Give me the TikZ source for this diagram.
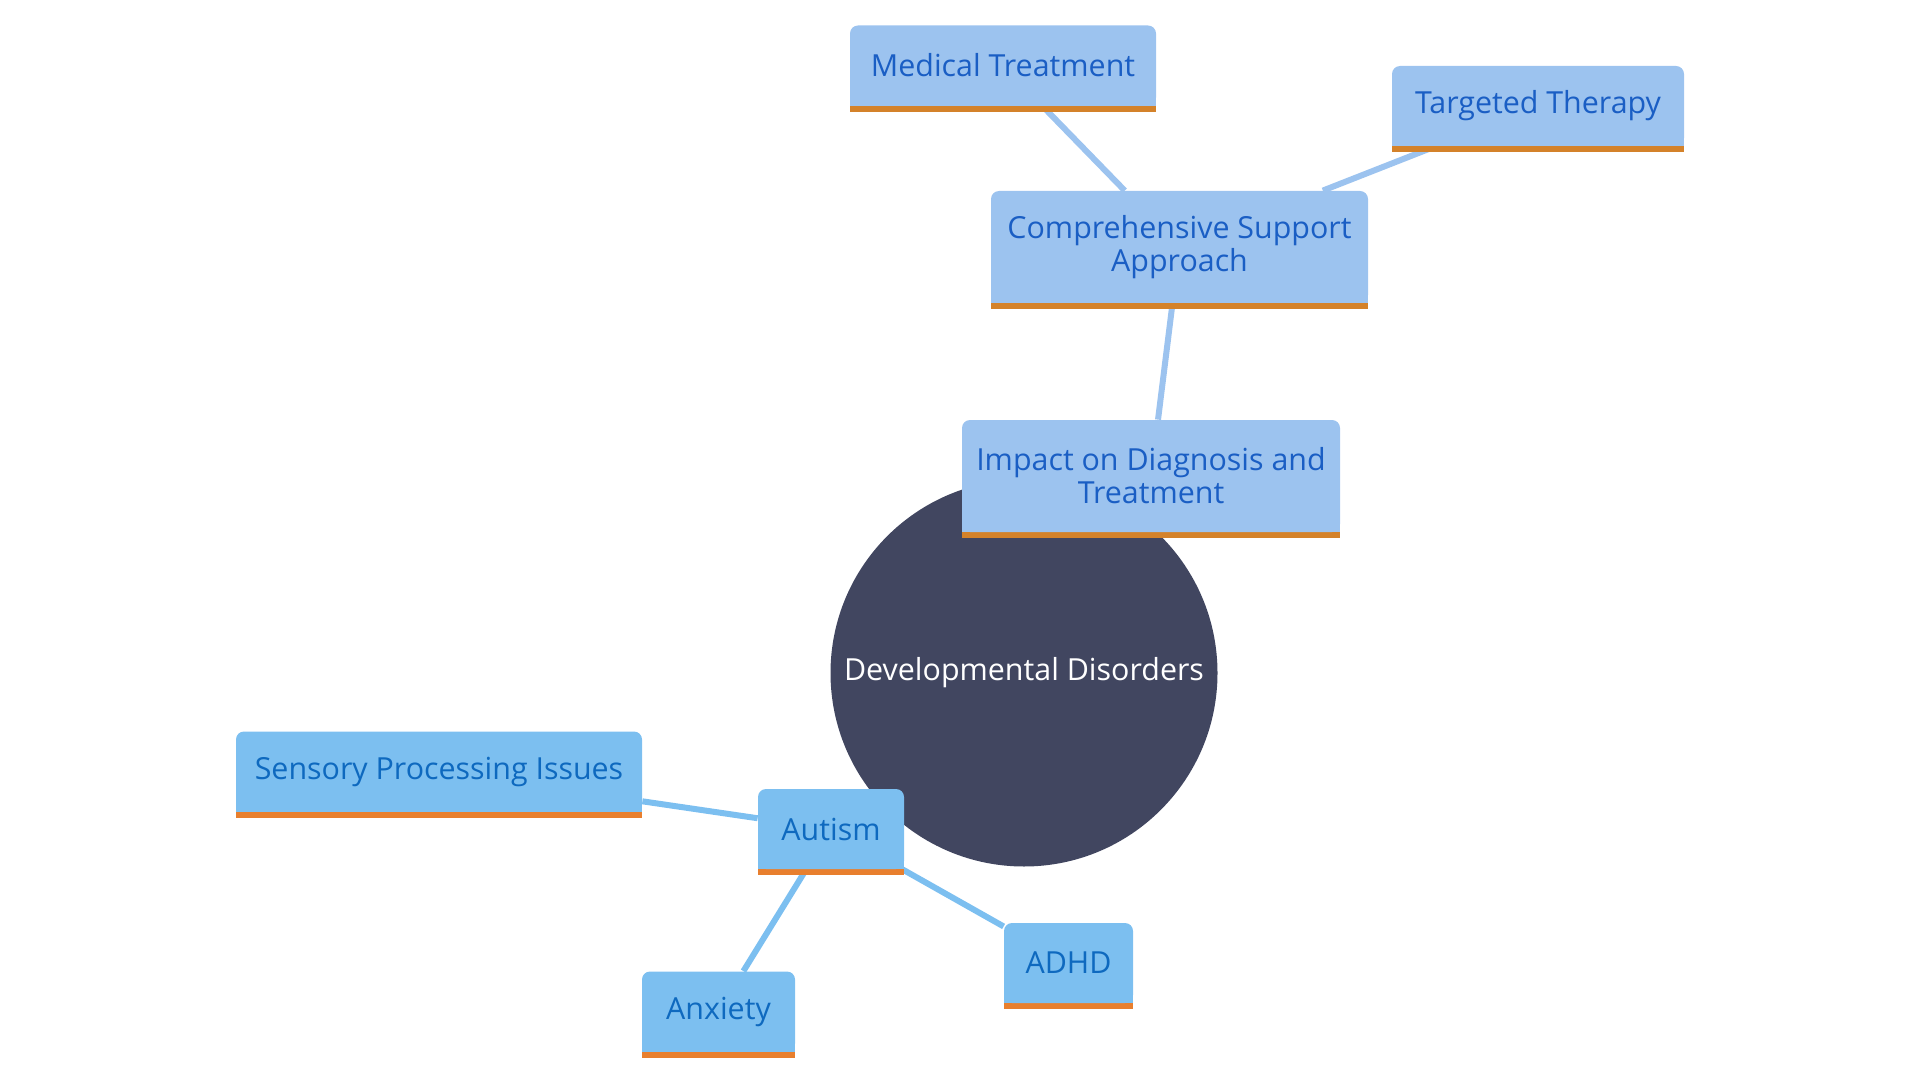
\documentclass[tikz,border=0pt]{standalone}
\usepackage{fontspec}
\setmainfont{Open Sans}
\usetikzlibrary{backgrounds}
\definecolor{hubfill}{HTML}{414660}
\definecolor{upfill}{HTML}{9CC3EF}
\definecolor{uptext}{HTML}{1A5EC4}
\definecolor{upbar}{HTML}{D4822A}
\definecolor{lowfill}{HTML}{7CBFF0}
\definecolor{lowtext}{HTML}{0E69BF}
\definecolor{lowbar}{HTML}{E87F2E}
\begin{document}
\begin{tikzpicture}[x=0.5pt, y=-0.5pt,
font=\fontsize{15.2}{16.5}\selectfont,
hub/.style={circle, fill=hubfill, text=white, minimum size=193.5pt, inner sep=0pt},
topic/.style={rectangle, rounded corners=4pt, fill=#1fill, text=#1text, inner sep=0pt,
  minimum height=40pt, align=center,
  append after command={\pgfextra{
    \fill[#1fill, sharp corners] ([yshift=5pt]\tikzlastnode.south west) rectangle (\tikzlastnode.south east);
    \fill[#1bar, sharp corners] (\tikzlastnode.south west) rectangle ([yshift=-3pt]\tikzlastnode.south east);}}},
link/.style={draw=#1fill, line width=3pt}]
\useasboundingbox (0,0) rectangle (1920,1080);

\node[hub] (hub) at (1024,673) {Developmental Disorders};

% upper branch
\node[topic=up, minimum width=189pt, minimum height=56pt] (impact) at (1151,476) {Impact on Diagnosis and\\Treatment};
\node[topic=up, minimum width=188.5pt, minimum height=56pt] (support) at (1179.5,247) {Comprehensive Support\\Approach};
\node[topic=up, minimum width=153pt] (medical) at (1003,65.5) {Medical Treatment};
\node[topic=up, minimum width=146pt] (therapy) at (1538,106) {Targeted Therapy};

% lower branch
\node[topic=low, minimum width=73pt] (autism) at (831,829) {Autism};
\node[topic=low, minimum width=203pt] (sensory) at (439,771.5) {Sensory Processing Issues};
\node[topic=low, minimum width=64.5pt] (adhd) at (1068.5,963) {ADHD};
\node[topic=low, minimum width=76.5pt] (anxiety) at (718.5,1011.5) {Anxiety};

\begin{scope}[on background layer]
\draw[link=up] (hub) -- (impact);
\draw[link=up] (impact) -- (support);
\draw[link=up] (support) -- (medical);
\draw[link=up] (support) -- (therapy);
\draw[link=low] (hub) -- (autism);
\draw[link=low] (autism) -- (sensory);
\draw[link=low] (autism) -- (adhd);
\draw[link=low] (autism) -- (anxiety);
\end{scope}
\end{tikzpicture}
\end{document}
